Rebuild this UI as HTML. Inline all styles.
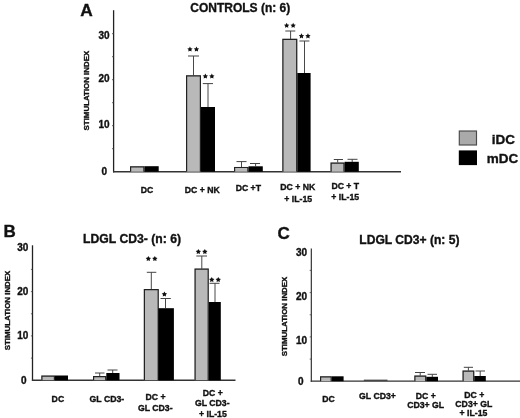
<!DOCTYPE html>
<html><head><meta charset="utf-8"><title>Stimulation index</title>
<style>
html,body{margin:0;padding:0;background:#fff;}
body{width:520px;height:418px;overflow:hidden;}
svg{display:block;}
svg{will-change:transform;}
svg text{font-family:"Liberation Sans",sans-serif;font-weight:bold;fill:#111;stroke:#111;stroke-width:0.35px;}
</style></head><body>
<svg width="520" height="418" viewBox="0 0 520 418">
<rect x="0" y="0" width="520" height="418" fill="#fff"/>
<line x1="113.6" y1="10.2" x2="113.6" y2="172.39999999999998" stroke="#222" stroke-width="1.3"/>
<line x1="113.0" y1="171.7" x2="401" y2="171.7" stroke="#333" stroke-width="1.4"/>
<line x1="112.0" y1="148.7" x2="113.6" y2="148.7" stroke="#444" stroke-width="0.8"/>
<line x1="112.0" y1="125.7" x2="113.6" y2="125.7" stroke="#444" stroke-width="0.8"/>
<line x1="112.0" y1="102.7" x2="113.6" y2="102.7" stroke="#444" stroke-width="0.8"/>
<line x1="112.0" y1="79.7" x2="113.6" y2="79.7" stroke="#444" stroke-width="0.8"/>
<line x1="112.0" y1="56.7" x2="113.6" y2="56.7" stroke="#444" stroke-width="0.8"/>
<line x1="112.0" y1="33.7" x2="113.6" y2="33.7" stroke="#444" stroke-width="0.8"/>
<text x="86.5" y="15.5" font-size="17.3" text-anchor="middle" stroke-width="0.5">A</text>
<text x="240.3" y="11.6" font-size="12" text-anchor="middle" stroke-width="0.4">CONTROLS (n: 6)</text>
<text x="109.7" y="38.6" font-size="10" text-anchor="end" >30</text>
<text x="109.7" y="82.2" font-size="10" text-anchor="end" >20</text>
<text x="109.7" y="128.2" font-size="10" text-anchor="end" >10</text>
<text x="107" y="175.2" font-size="10" text-anchor="end" >0</text>
<text transform="translate(88.8,90.6) rotate(-90)" font-size="7.9" text-anchor="middle">STIMULATION INDEX</text>
<rect x="130" y="166.2" width="14.50" height="5.50" fill="#b9b9b9"/>
<path d="M130.60 171.7 V166.80 H143.90 V171.7" fill="none" stroke="#222" stroke-width="1.2"/>
<rect x="144.5" y="166.2" width="14.20" height="5.50" fill="#000"/>
<rect x="186" y="75.2" width="15.00" height="96.50" fill="#b9b9b9"/>
<path d="M186.60 171.7 V75.80 H200.40 V171.7" fill="none" stroke="#222" stroke-width="1.2"/>
<rect x="201" y="107" width="14.00" height="64.70" fill="#000"/>
<line x1="193.5" y1="56" x2="193.5" y2="75.5" stroke="#333" stroke-width="0.9"/>
<line x1="188" y1="56" x2="199" y2="56" stroke="#444" stroke-width="1"/>
<line x1="208" y1="83.6" x2="208" y2="107" stroke="#333" stroke-width="0.9"/>
<line x1="202.8" y1="83.6" x2="213" y2="83.6" stroke="#444" stroke-width="1"/>
<rect x="234" y="166.9" width="14.50" height="4.80" fill="#b9b9b9"/>
<path d="M234.60 171.7 V167.50 H247.90 V171.7" fill="none" stroke="#222" stroke-width="1.2"/>
<rect x="248.5" y="166.3" width="14.30" height="5.40" fill="#000"/>
<line x1="241.5" y1="161.6" x2="241.5" y2="167" stroke="#333" stroke-width="0.9"/>
<line x1="236.5" y1="161.6" x2="246.5" y2="161.6" stroke="#444" stroke-width="1"/>
<line x1="255.6" y1="163.5" x2="255.6" y2="166.5" stroke="#333" stroke-width="0.9"/>
<line x1="250" y1="163.5" x2="260" y2="163.5" stroke="#444" stroke-width="1"/>
<rect x="282.3" y="38.8" width="15.00" height="132.90" fill="#b9b9b9"/>
<path d="M282.90 171.7 V39.40 H296.70 V171.7" fill="none" stroke="#222" stroke-width="1.2"/>
<rect x="297.3" y="73" width="13.30" height="98.70" fill="#000"/>
<line x1="290.6" y1="31" x2="290.6" y2="39" stroke="#333" stroke-width="0.9"/>
<line x1="285.3" y1="31" x2="295.3" y2="31" stroke="#444" stroke-width="1"/>
<line x1="304.5" y1="41" x2="304.5" y2="73" stroke="#333" stroke-width="0.9"/>
<line x1="299.4" y1="41" x2="309.4" y2="41" stroke="#444" stroke-width="1"/>
<rect x="330.5" y="162.5" width="14.10" height="9.20" fill="#b9b9b9"/>
<path d="M331.10 171.7 V163.10 H344.00 V171.7" fill="none" stroke="#222" stroke-width="1.2"/>
<rect x="344.6" y="161.8" width="14.20" height="9.90" fill="#000"/>
<line x1="337.7" y1="159.5" x2="337.7" y2="162.6" stroke="#333" stroke-width="0.9"/>
<line x1="333.8" y1="159.5" x2="343" y2="159.5" stroke="#444" stroke-width="1"/>
<line x1="352.2" y1="159.3" x2="352.2" y2="162" stroke="#333" stroke-width="0.9"/>
<line x1="347.5" y1="159.3" x2="357.5" y2="159.3" stroke="#444" stroke-width="1"/>
<polygon points="189.95,46.55 190.80,48.18 192.61,48.48 191.33,49.80 191.60,51.62 189.95,50.80 188.30,51.62 188.57,49.80 187.29,48.48 189.10,48.18" fill="#111"/>
<polygon points="196.45,46.55 197.30,48.18 199.11,48.48 197.83,49.80 198.10,51.62 196.45,50.80 194.80,51.62 195.07,49.80 193.79,48.48 195.60,48.18" fill="#111"/>
<polygon points="205.35,73.55 206.20,75.18 208.01,75.48 206.73,76.80 207.00,78.62 205.35,77.80 203.70,78.62 203.97,76.80 202.69,75.48 204.50,75.18" fill="#111"/>
<polygon points="211.85,73.55 212.70,75.18 214.51,75.48 213.23,76.80 213.50,78.62 211.85,77.80 210.20,78.62 210.47,76.80 209.19,75.48 211.00,75.18" fill="#111"/>
<polygon points="286.65,22.75 287.50,24.38 289.31,24.68 288.03,26.00 288.30,27.82 286.65,27.00 285.00,27.82 285.27,26.00 283.99,24.68 285.80,24.38" fill="#111"/>
<polygon points="293.15,22.75 294.00,24.38 295.81,24.68 294.53,26.00 294.80,27.82 293.15,27.00 291.50,27.82 291.77,26.00 290.49,24.68 292.30,24.38" fill="#111"/>
<polygon points="301.45,33.35 302.30,34.98 304.11,35.28 302.83,36.60 303.10,38.42 301.45,37.60 299.80,38.42 300.07,36.60 298.79,35.28 300.60,34.98" fill="#111"/>
<polygon points="307.95,33.35 308.80,34.98 310.61,35.28 309.33,36.60 309.60,38.42 307.95,37.60 306.30,38.42 306.57,36.60 305.29,35.28 307.10,34.98" fill="#111"/>
<text x="147.1" y="192.5" font-size="8.7" text-anchor="middle" >DC</text>
<text x="202.3" y="192.5" font-size="8.7" text-anchor="middle" >DC + NK</text>
<text x="248.3" y="191.3" font-size="8.7" text-anchor="middle" >DC +T</text>
<text x="297.8" y="190.2" font-size="8.7" text-anchor="middle" >DC + NK</text>
<text x="298.2" y="201.6" font-size="8.7" text-anchor="middle" >+ IL-15</text>
<text x="345.3" y="188.8" font-size="8.7" text-anchor="middle" >DC + T</text>
<text x="345.2" y="199.9" font-size="8.7" text-anchor="middle" >+ IL-15</text>
<rect x="459.3" y="131" width="17.2" height="14" fill="#aaaaaa" stroke="#4a4a4a" stroke-width="1.15"/>
<rect x="458.8" y="150.4" width="18.2" height="14.7" fill="#000"/>
<text x="503.3" y="144.3" font-size="13.5" text-anchor="middle" >iDC</text>
<text x="502.6" y="163.2" font-size="13.5" text-anchor="middle" >mDC</text>
<line x1="32.5" y1="245.3" x2="32.5" y2="380.9" stroke="#222" stroke-width="1.3"/>
<line x1="31.9" y1="380.2" x2="235.5" y2="380.2" stroke="#333" stroke-width="1.4"/>
<line x1="30.9" y1="358.1" x2="32.5" y2="358.1" stroke="#444" stroke-width="0.8"/>
<line x1="30.9" y1="335.9" x2="32.5" y2="335.9" stroke="#444" stroke-width="0.8"/>
<line x1="30.9" y1="313.8" x2="32.5" y2="313.8" stroke="#444" stroke-width="0.8"/>
<line x1="30.9" y1="291.6" x2="32.5" y2="291.6" stroke="#444" stroke-width="0.8"/>
<line x1="30.9" y1="269.4" x2="32.5" y2="269.4" stroke="#444" stroke-width="0.8"/>
<text x="9.6" y="236.9" font-size="17" text-anchor="middle" stroke-width="0.5">B</text>
<text x="132.1" y="242.9" font-size="12.2" text-anchor="middle" stroke-width="0.4">LDGL CD3- (n: 6)</text>
<text x="28.3" y="250.9" font-size="10" text-anchor="end" >30</text>
<text x="28.3" y="294.9" font-size="10" text-anchor="end" >20</text>
<text x="28.3" y="339.3" font-size="10" text-anchor="end" >10</text>
<text x="26.5" y="383.7" font-size="10" text-anchor="end" >0</text>
<text transform="translate(9.5,310.5) rotate(-90)" font-size="7.9" text-anchor="middle">STIMULATION INDEX</text>
<rect x="41.3" y="375.5" width="13.70" height="4.70" fill="#b9b9b9"/>
<path d="M41.90 380.2 V376.10 H54.40 V380.2" fill="none" stroke="#222" stroke-width="1.2"/>
<rect x="55" y="375.5" width="13.00" height="4.70" fill="#000"/>
<rect x="93" y="376" width="13.30" height="4.20" fill="#b9b9b9"/>
<path d="M93.60 380.2 V376.60 H105.70 V380.2" fill="none" stroke="#222" stroke-width="1.2"/>
<rect x="106.3" y="373" width="13.20" height="7.20" fill="#000"/>
<line x1="99.7" y1="373" x2="99.7" y2="376" stroke="#333" stroke-width="0.9"/>
<line x1="95" y1="373" x2="104.5" y2="373" stroke="#444" stroke-width="1"/>
<line x1="112.7" y1="370" x2="112.7" y2="373" stroke="#333" stroke-width="0.9"/>
<line x1="107.5" y1="370" x2="117.5" y2="370" stroke="#444" stroke-width="1"/>
<rect x="143.8" y="289" width="15.00" height="91.20" fill="#b9b9b9"/>
<path d="M144.40 380.2 V289.60 H158.20 V380.2" fill="none" stroke="#222" stroke-width="1.2"/>
<rect x="158.3" y="308.2" width="15.60" height="72.00" fill="#000"/>
<line x1="151.3" y1="272.3" x2="151.3" y2="289.3" stroke="#333" stroke-width="0.9"/>
<line x1="146.8" y1="272.3" x2="156.3" y2="272.3" stroke="#444" stroke-width="1"/>
<line x1="165.5" y1="298.5" x2="165.5" y2="308.3" stroke="#333" stroke-width="0.9"/>
<line x1="160.5" y1="298.5" x2="170.8" y2="298.5" stroke="#444" stroke-width="1"/>
<rect x="194.5" y="268.5" width="14.30" height="111.70" fill="#b9b9b9"/>
<path d="M195.10 380.2 V269.10 H208.20 V380.2" fill="none" stroke="#222" stroke-width="1.2"/>
<rect x="208.8" y="302" width="12.00" height="78.20" fill="#000"/>
<line x1="201.8" y1="256" x2="201.8" y2="268.8" stroke="#333" stroke-width="0.9"/>
<line x1="196.3" y1="256" x2="207" y2="256" stroke="#444" stroke-width="1"/>
<line x1="215" y1="283.3" x2="215" y2="302" stroke="#333" stroke-width="0.9"/>
<line x1="209.5" y1="283.3" x2="219.5" y2="283.3" stroke="#444" stroke-width="1"/>
<polygon points="148.35,255.95 149.20,257.58 151.01,257.88 149.73,259.20 150.00,261.02 148.35,260.20 146.70,261.02 146.97,259.20 145.69,257.88 147.50,257.58" fill="#111"/>
<polygon points="154.85,255.95 155.70,257.58 157.51,257.88 156.23,259.20 156.50,261.02 154.85,260.20 153.20,261.02 153.47,259.20 152.19,257.88 154.00,257.58" fill="#111"/>
<polygon points="164.40,291.45 165.25,293.08 167.06,293.38 165.78,294.70 166.05,296.52 164.40,295.70 162.75,296.52 163.02,294.70 161.74,293.38 163.55,293.08" fill="#111"/>
<polygon points="198.35,248.95 199.20,250.58 201.01,250.88 199.73,252.20 200.00,254.02 198.35,253.20 196.70,254.02 196.97,252.20 195.69,250.88 197.50,250.58" fill="#111"/>
<polygon points="204.85,248.95 205.70,250.58 207.51,250.88 206.23,252.20 206.50,254.02 204.85,253.20 203.20,254.02 203.47,252.20 202.19,250.88 204.00,250.58" fill="#111"/>
<polygon points="211.75,276.95 212.60,278.58 214.41,278.88 213.13,280.20 213.40,282.02 211.75,281.20 210.10,282.02 210.37,280.20 209.09,278.88 210.90,278.58" fill="#111"/>
<polygon points="218.25,276.95 219.10,278.58 220.91,278.88 219.63,280.20 219.90,282.02 218.25,281.20 216.60,282.02 216.87,280.20 215.59,278.88 217.40,278.58" fill="#111"/>
<text x="57.9" y="402.3" font-size="8.7" text-anchor="middle" >DC</text>
<text x="106.9" y="402.3" font-size="8.7" text-anchor="middle" >GL CD3-</text>
<text x="155.6" y="400.1" font-size="8.7" text-anchor="middle" >DC +</text>
<text x="155.3" y="411.3" font-size="8.7" text-anchor="middle" >GL CD3-</text>
<text x="212.8" y="396.3" font-size="8.7" text-anchor="middle" >DC +</text>
<text x="212.3" y="405.6" font-size="8.7" text-anchor="middle" >GL CD3-</text>
<text x="212.9" y="417.3" font-size="8.7" text-anchor="middle" >+ IL-15</text>
<line x1="311.3" y1="248.5" x2="311.3" y2="381.8" stroke="#222" stroke-width="1.1"/>
<line x1="310.7" y1="381.2" x2="520" y2="381.2" stroke="#333" stroke-width="1.25"/>
<line x1="309.7" y1="359.1" x2="311.3" y2="359.1" stroke="#444" stroke-width="0.8"/>
<line x1="309.7" y1="336.9" x2="311.3" y2="336.9" stroke="#444" stroke-width="0.8"/>
<line x1="309.7" y1="314.8" x2="311.3" y2="314.8" stroke="#444" stroke-width="0.8"/>
<line x1="309.7" y1="292.6" x2="311.3" y2="292.6" stroke="#444" stroke-width="0.8"/>
<line x1="309.7" y1="270.4" x2="311.3" y2="270.4" stroke="#444" stroke-width="0.8"/>
<text x="283.6" y="238.6" font-size="17" text-anchor="middle" stroke-width="0.5">C</text>
<text x="409.4" y="243.8" font-size="12.1" text-anchor="middle" stroke-width="0.4">LDGL CD3+ (n: 5)</text>
<text x="307" y="256.1" font-size="10" text-anchor="end" >30</text>
<text x="307" y="299.6" font-size="10" text-anchor="end" >20</text>
<text x="307" y="343.6" font-size="10" text-anchor="end" >10</text>
<text x="303.6" y="384.8" font-size="10" text-anchor="end" >0</text>
<text transform="translate(286.8,316.5) rotate(-90)" font-size="7.9" text-anchor="middle">STIMULATION INDEX</text>
<rect x="320" y="376.3" width="11.80" height="4.90" fill="#b9b9b9"/>
<path d="M320.60 381.2 V376.90 H331.20 V381.2" fill="none" stroke="#222" stroke-width="1.2"/>
<rect x="331.8" y="376.3" width="11.80" height="4.90" fill="#000"/>
<line x1="363.8" y1="380.2" x2="387.5" y2="380.2" stroke="#222" stroke-width="1"/>
<rect x="414.3" y="375.5" width="12.00" height="5.70" fill="#b9b9b9"/>
<path d="M414.90 381.2 V376.10 H425.70 V381.2" fill="none" stroke="#222" stroke-width="1.2"/>
<rect x="426.3" y="376.8" width="11.70" height="4.40" fill="#000"/>
<line x1="420.2" y1="372.5" x2="420.2" y2="375.7" stroke="#333" stroke-width="0.9"/>
<line x1="415" y1="372.5" x2="425" y2="372.5" stroke="#444" stroke-width="1"/>
<line x1="432.3" y1="374.3" x2="432.3" y2="377" stroke="#333" stroke-width="0.9"/>
<line x1="427.5" y1="374.3" x2="437" y2="374.3" stroke="#444" stroke-width="1"/>
<rect x="462.5" y="370.5" width="11.80" height="10.70" fill="#b9b9b9"/>
<path d="M463.10 381.2 V371.10 H473.70 V381.2" fill="none" stroke="#222" stroke-width="1.2"/>
<rect x="474.3" y="376" width="11.50" height="5.20" fill="#000"/>
<line x1="468.4" y1="367.3" x2="468.4" y2="370.7" stroke="#333" stroke-width="0.9"/>
<line x1="463.8" y1="367.3" x2="473" y2="367.3" stroke="#444" stroke-width="1"/>
<line x1="480.2" y1="371" x2="480.2" y2="376" stroke="#333" stroke-width="0.9"/>
<line x1="475.5" y1="371" x2="485" y2="371" stroke="#444" stroke-width="1"/>
<text x="328.5" y="402.2" font-size="8.7" text-anchor="middle" >DC</text>
<text x="377.5" y="399.4" font-size="8.7" text-anchor="middle" >GL CD3+</text>
<text x="425.8" y="399.3" font-size="8.7" text-anchor="middle" >DC +</text>
<text x="425.6" y="407.8" font-size="8.7" text-anchor="middle" >CD3+ GL</text>
<text x="474.2" y="398.4" font-size="8.7" text-anchor="middle" >DC +</text>
<text x="473.8" y="406.8" font-size="8.7" text-anchor="middle" >CD3+ GL</text>
<text x="473.5" y="416.3" font-size="8.7" text-anchor="middle" >+ IL-15</text>
</svg>
</body></html>
